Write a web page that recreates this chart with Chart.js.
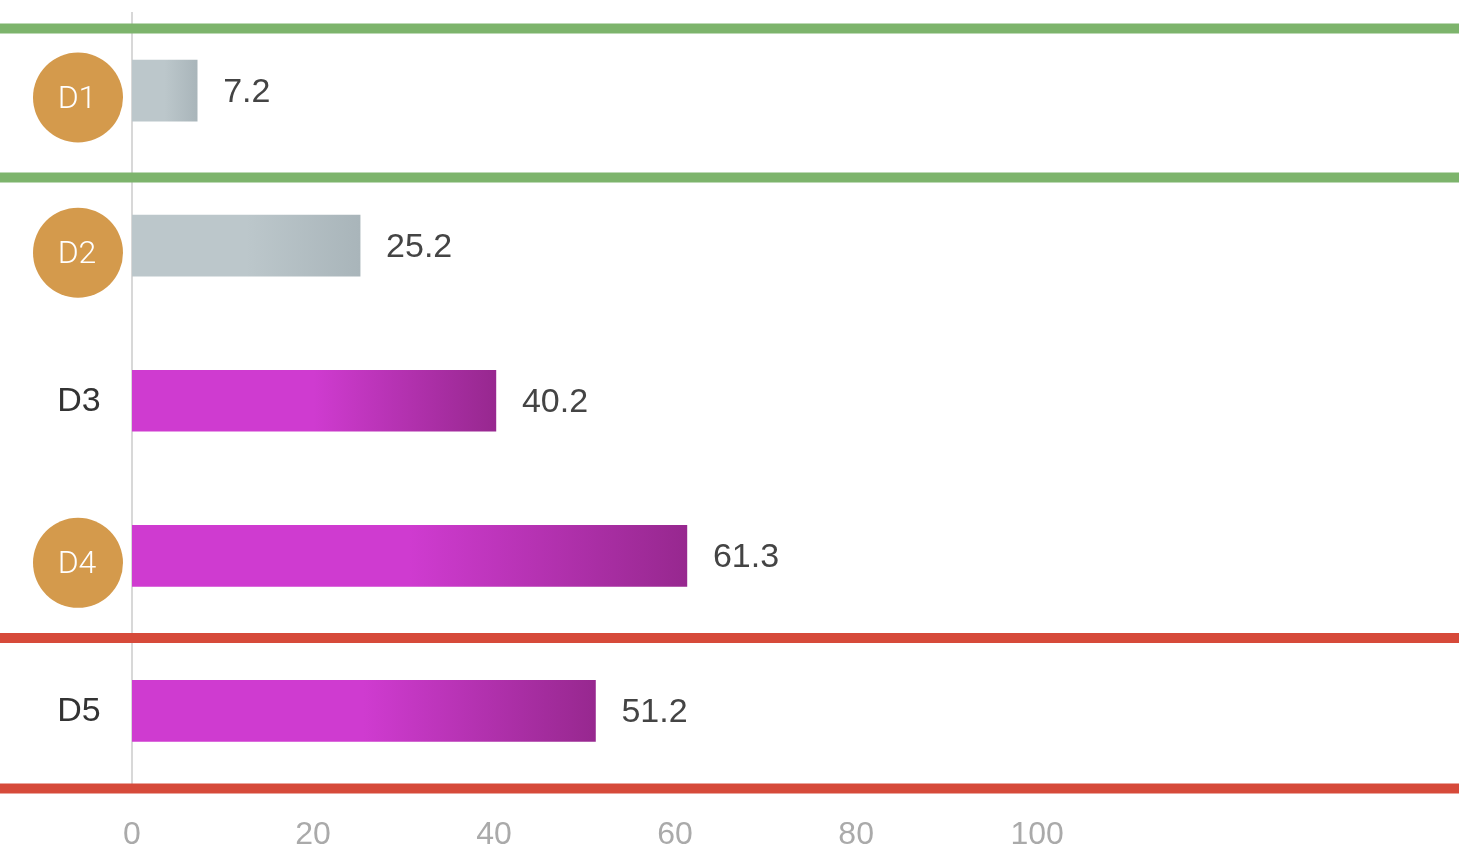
<!DOCTYPE html>
<html>
<head>
<meta charset="utf-8">
<script src="https://cdn.jsdelivr.net/npm/chart.js@4.4.1/dist/chart.umd.min.js"></script>
<style>
  html, body { margin: 0; padding: 0; background: #fff; }
  #wrap { width: 1459px; height: 856px; position: relative; }
</style>
</head>
<body>
<div id="wrap"><canvas id="barChart"></canvas></div>
<script>
const categories = ['D1', 'D2', 'D3', 'D4', 'D5'];
const values = [7.2, 25.2, 40.2, 61.3, 51.2];
const badged = [true, true, false, true, false];   // orange circle behind the label
const barTone = ['gray', 'gray', 'purple', 'purple', 'purple'];
const xTicks = [0, 20, 40, 60, 80, 100];
const greenLines = [-0.4, 0.56];   // category-index positions of the horizontal rules
const redLines = [3.53, 4.5];

const tones = {
    gray: ['#bcc7cb', '#a9b5ba'],
    purple: ['#cf3bd0', '#97288f']
};

function barFill(ctx) {
    const chart = ctx.chart;
    const tone = tones[barTone[ctx.dataIndex]];
    if (!chart.chartArea || !chart.scales.x) return tone[0];
    const x = chart.scales.x;
    const x0 = x.getPixelForValue(0);
    const x1 = x.getPixelForValue(values[ctx.dataIndex]);
    const g = chart.ctx.createLinearGradient(x0, 0, x1, 0);
    g.addColorStop(0, tone[0]);
    g.addColorStop(0.5, tone[0]);
    g.addColorStop(1, tone[1]);
    return g;
}

const decorations = {
    id: 'decorations',
    afterDatasetsDraw(chart) {
        const ctx = chart.ctx;
        const x = chart.scales.x, y = chart.scales.y;
        ctx.save();
        ctx.font = '34px "Liberation Sans", Arial, sans-serif';
        ctx.fillStyle = '#444';
        ctx.textAlign = 'left';
        ctx.textBaseline = 'middle';
        values.forEach((v, i) => {
            ctx.fillText(v.toFixed(1), x.getPixelForValue(v) + 26, y.getPixelForValue(i) + 2);
        });
        ctx.restore();
    },
    afterDraw(chart) {
        const ctx = chart.ctx;
        const y = chart.scales.y;
        ctx.save();
        // category labels, some in orange circles
        categories.forEach((c, i) => {
            const cy = y.getPixelForValue(i);
            ctx.textAlign = 'center';
            ctx.textBaseline = 'middle';
            if (badged[i]) {
                ctx.fillStyle = '#d49a4c';
                ctx.beginPath();
                ctx.arc(78, cy + 7, 45, 0, Math.PI * 2);
                ctx.fill();
                ctx.fillStyle = '#fff';
                ctx.font = '300 32px Roboto, sans-serif';
                ctx.fillText(c, 77, cy + 9);
            } else {
                ctx.fillStyle = '#333';
                ctx.font = '34px "Liberation Sans", Arial, sans-serif';
                ctx.fillText(c, 79, cy + 1);
            }
        });
        // full-width rules
        ctx.lineWidth = 10;
        const rule = (pos, color) => {
            const py = y.getPixelForValue(pos);
            ctx.strokeStyle = color;
            ctx.beginPath();
            ctx.moveTo(0, py);
            ctx.lineTo(chart.width, py);
            ctx.stroke();
        };
        greenLines.forEach(p => rule(p, '#7db46c'));
        redLines.forEach(p => rule(p, '#d64a3a'));
        ctx.restore();
    }
};

const chart = new Chart(document.getElementById('barChart'), {
    type: 'bar',
    data: {
        labels: categories,
        datasets: [{
            data: values,
            backgroundColor: barFill,
            borderWidth: 0,
            barThickness: 61
        }]
    },
    options: {
        indexAxis: 'y',
        responsive: true,
        maintainAspectRatio: false,
        animation: false,
        layout: { padding: { top: 13, left: 0, right: 0, bottom: 0 } },
        plugins: { legend: { display: false }, tooltip: { enabled: false } },
        scales: {
            x: {
                min: 0,
                max: 146.6,
                bounds: 'data',
                grid: { display: false, drawTicks: false },
                border: { display: false },
                afterFit: s => {
                    s.height = 67.5;
                    s.paddingLeft = 0;
                    s.paddingRight = 0;
                },
                ticks: {
                    stepSize: 20,
                    padding: 27,
                    maxRotation: 0,
                    color: '#aaa',
                    font: { family: '"Liberation Sans Narrow", "Liberation Sans", sans-serif', size: 32 },
                    callback: v => xTicks.includes(v) ? v : ''
                }
            },
            y: {
                grid: { display: false, drawTicks: false },
                border: { display: true, color: '#d8d8d8', width: 2 },
                ticks: { display: false },
                afterFit: s => { s.width = 132; }
            }
        }
    },
    plugins: [decorations]
});
</script>
</body>
</html>
